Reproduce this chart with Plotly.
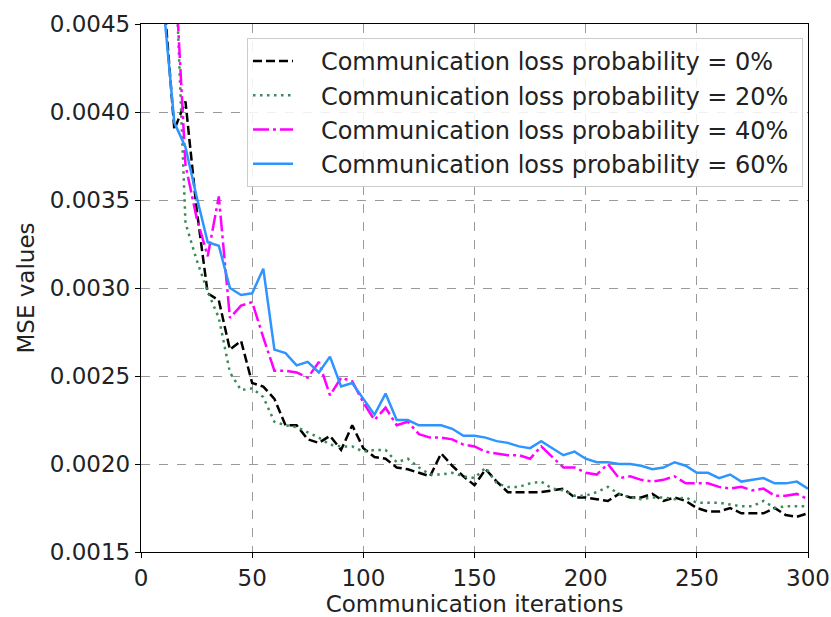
import plotly.graph_objects as go

iterations = list(range(5, 305, 5))

mse_loss_0 = [0.0058, 0.0047, 0.00390, 0.00406, 0.00345, 0.00297, 0.00293, 0.00265, 0.00270, 0.00246,
              0.00244, 0.00237, 0.00222, 0.00222, 0.00214, 0.00212, 0.00216, 0.00208, 0.00222, 0.00209,
              0.00204, 0.00203, 0.00198, 0.00197, 0.00195, 0.00193, 0.00206, 0.00199, 0.00193, 0.00188,
              0.00197, 0.00190, 0.00184, 0.00184, 0.00184, 0.00184, 0.00185, 0.00186, 0.00181, 0.00181,
              0.00180, 0.00179, 0.00183, 0.00181, 0.00181, 0.00183, 0.00179, 0.00181, 0.00179, 0.00175,
              0.00173, 0.00173, 0.00175, 0.00172, 0.00172, 0.00172, 0.00175, 0.00171, 0.00170, 0.00172]

mse_loss_20 = [0.0068, 0.0058, 0.0050, 0.00337, 0.00316, 0.00298, 0.00283, 0.00252, 0.00242, 0.00243,
               0.00238, 0.00224, 0.00222, 0.00221, 0.00218, 0.00215, 0.00211, 0.00210, 0.00210, 0.00207,
               0.00208, 0.00208, 0.00201, 0.00203, 0.00198, 0.00194, 0.00194, 0.00195, 0.00193, 0.00192,
               0.00198, 0.00189, 0.00187, 0.00187, 0.00189, 0.00190, 0.00186, 0.00185, 0.00182, 0.00182,
               0.00184, 0.00187, 0.00183, 0.00181, 0.00180, 0.00181, 0.00181, 0.00180, 0.00181, 0.00178,
               0.00178, 0.00178, 0.00177, 0.00176, 0.00176, 0.00179, 0.00175, 0.00176, 0.00176, 0.00176]

mse_loss_40 = [0.0070, 0.0058, 0.0049, 0.00370, 0.00340, 0.00318, 0.00352, 0.00283, 0.00290, 0.00292,
               0.00272, 0.00253, 0.00253, 0.00252, 0.00249, 0.00258, 0.00239, 0.00249, 0.00247, 0.00235,
               0.00225, 0.00232, 0.00222, 0.00224, 0.00217, 0.00215, 0.00215, 0.00214, 0.00211, 0.00210,
               0.00207, 0.00206, 0.00205, 0.00205, 0.00203, 0.00210, 0.00204, 0.00198, 0.00198, 0.00195,
               0.00194, 0.00200, 0.00192, 0.00193, 0.00191, 0.00190, 0.00191, 0.00193, 0.00189, 0.00189,
               0.00189, 0.00187, 0.00186, 0.00187, 0.00185, 0.00186, 0.00182, 0.00182, 0.00183, 0.00180]

mse_loss_60 = [0.0055, 0.00462, 0.00394, 0.00380, 0.00352, 0.00326, 0.00324, 0.00300, 0.00296, 0.00297,
               0.00311, 0.00265, 0.00263, 0.00256, 0.00258, 0.00252, 0.00261, 0.00244, 0.00246, 0.00237,
               0.00228, 0.00240, 0.00225, 0.00225, 0.00222, 0.00222, 0.00222, 0.00220, 0.00216, 0.00216,
               0.00215, 0.00213, 0.00212, 0.00210, 0.00209, 0.00213, 0.00209, 0.00205, 0.00207, 0.00203,
               0.00201, 0.00201, 0.00200, 0.00200, 0.00199, 0.00197, 0.00198, 0.00201, 0.00199, 0.00195,
               0.00195, 0.00192, 0.00194, 0.00190, 0.00191, 0.00192, 0.00189, 0.00189, 0.00190, 0.00186]

series_names = ["Communication loss probability = 0%",
                "Communication loss probability = 20%",
                "Communication loss probability = 40%",
                "Communication loss probability = 60%"]
series_values = [mse_loss_0, mse_loss_20, mse_loss_40, mse_loss_60]
colors = ["#000000", "#3a8a5a", "#ff00ff", "#2e95ff"]
dashes = ["9px,4px", "2.5px,4.5px", "16px,4px,3px,4px", "solid"]

x_ticks = [0, 50, 100, 150, 200, 250, 300]
y_ticks = [0.0015, 0.0020, 0.0025, 0.0030, 0.0035, 0.0040, 0.0045]

lead = "\u00a0\u00a0\u00a0"
trail = "\u00a0"
fig = go.Figure()
for name, vals, c, d in zip(series_names, series_values, colors, dashes):
    fig.add_trace(go.Scatter(x=iterations, y=vals, mode="lines", name=lead + name + trail,
                             line=dict(color=c, width=2.5, dash=d)))

axis_common = dict(showline=True, linecolor="black", linewidth=1.3, mirror=True,
                   ticks="outside", ticklen=5, tickcolor="black", tickwidth=1.2,
                   showgrid=True, gridcolor="#9a9a9a", griddash="dash", gridwidth=1,
                   zeroline=False, automargin=False, tickfont=dict(size=23, color="#222"))

fig.update_layout(
    width=831, height=617,
    margin=dict(l=141, r=23, t=24, b=65),
    plot_bgcolor="white", paper_bgcolor="white",
    font=dict(family="DejaVu Sans", color="#222"),
    xaxis=dict(range=[0, 300], tickvals=x_ticks, ticktext=[str(v) for v in x_ticks],
               title=dict(text="Communication iterations", font=dict(size=23), standoff=7),
               **axis_common),
    yaxis=dict(range=[0.0015, 0.0045], tickvals=y_ticks,
               ticktext=[f"{v:.4f}" for v in y_ticks],
               title=dict(text="MSE values", font=dict(size=23), standoff=8),
               **axis_common),
    legend=dict(x=0.9925, y=0.9735, xanchor="right", yanchor="top",
                bgcolor="rgba(255,255,255,0.85)", bordercolor="#cccccc", borderwidth=1,
                font=dict(size=24, color="#222"), tracegroupgap=0, itemwidth=40),
    showlegend=True,
)

fig.write_html("out.html")
